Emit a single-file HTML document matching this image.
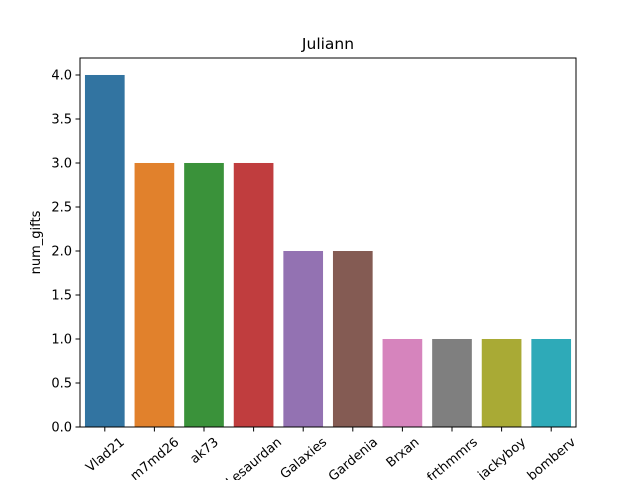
<!DOCTYPE html>
<html><head><meta charset="utf-8"><style>
html,body{margin:0;padding:0;background:#fff;overflow:hidden;width:640px;height:480px}
svg text{font-family:"DejaVu Sans","Liberation Sans",sans-serif;font-size:13px;fill:#000}
</style></head><body>
<svg id="chart" width="640" height="480" xmlns="http://www.w3.org/2000/svg"></svg>
<script>
const categories=["Vlad21","m7md26","ak73","Lesaurdan","Galaxies","Gardenia","Brxan","frthmmrs","jackyboy","bomberv"];
const values=[4,3,3,3,2,2,1,1,1,1];
const colors=["#3274a1","#e1812c","#3a923a","#c03d3e","#9372b2","#845b53","#d684bd","#7f7f7f","#a9aa35","#2eaab8"];
const yTicks=[0,0.5,1,1.5,2,2.5,3,3.5,4];
const L=80,R=576,T=58,B=427,yMax=4.193;
const svg=document.getElementById('chart');
const NS="http://www.w3.org/2000/svg";
const y=v=>B-(v/yMax)*(B-T);
const band=(R-L)/categories.length;
const x=i=>L+band*(i+0.5);
function mk(t,a,p){const e=document.createElementNS(NS,t);for(const k in a)e.setAttribute(k,a[k]);(p||svg).appendChild(e);return e;}
const title=mk('text',{x:(L+R)/2,y:49,'text-anchor':'middle',style:'font-size:15.5px'});
title.textContent='Juliann';


const s=Math.sin(40*Math.PI/180),c40=Math.cos(40*Math.PI/180);
categories.forEach((c,i)=>{
  const w=band*0.8;
  const r=mk('rect',{x:x(i)-w/2,y:y(values[i]),width:w,height:B-y(values[i]),fill:colors[i]});
  
  
  mk('line',{x1:x(i),x2:x(i),y1:B,y2:B+4.5,stroke:'#000','stroke-width':1});
  const t=mk('text',{x:0,y:4.5,'text-anchor':'middle'});
  t.textContent=c;
  
  
  const len=t.getComputedTextLength();
  const h=13;
  const cy=B+8+(len*s+h*c40)/2;
  t.setAttribute('transform',`translate(${x(i)},${cy}) rotate(-40)`);
});
yTicks.forEach(v=>{
  mk('line',{x1:L-4.5,x2:L,y1:y(v),y2:y(v),stroke:'#000','stroke-width':1});
  const t=mk('text',{x:L-8,y:y(v)+4.5,'text-anchor':'end'});
  t.textContent=v.toFixed(1);
  
  
});
const fr=mk('rect',{x:L,y:T,width:R-L,height:B-T,fill:'none',stroke:'#000','stroke-width':1});


const yl=mk('text',{x:0,y:0,'text-anchor':'middle',transform:`translate(40,${(T+B)/2}) rotate(-90)`});
yl.textContent='num_gifts';


</script>
</body></html>
